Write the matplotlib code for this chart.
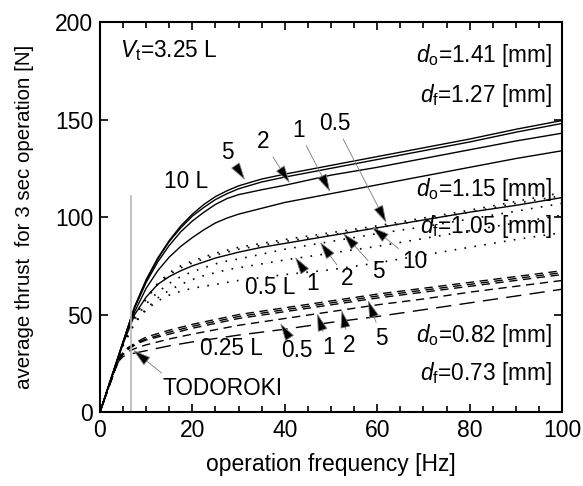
import matplotlib
matplotlib.use("Agg")
import matplotlib.pyplot as plt
from matplotlib.ticker import MultipleLocator

plt.rcParams['font.family'] = ['Liberation Sans', 'DejaVu Sans']
plt.rcParams['mathtext.fontset'] = 'custom'
plt.rcParams['mathtext.rm'] = 'Liberation Sans'
plt.rcParams['mathtext.it'] = 'Liberation Sans:italic'

# d_o = 1.41 mm (solid)
f_s = [0, 2.5, 5, 7.5, 10, 12.5, 15, 17.5, 20, 22.5, 25, 27.5, 30, 35, 40, 50, 60, 70, 80, 90, 100]
solid_10 = [0, 18, 36, 54, 68, 79, 88, 95.5, 101.5, 106.5, 110.5, 113.5, 116, 119.5, 122, 126.5, 131, 135.5, 140, 145, 149.5]
solid_5 = [0, 18, 36, 54, 67.5, 78.5, 87.5, 94.5, 100.5, 105, 109, 112, 114.5, 118, 120.5, 125, 129.5, 134, 138.5, 143.5, 148]
solid_2 = [0, 18, 36, 53.5, 66.5, 77, 85.5, 92.5, 98, 102.5, 106.5, 109.5, 111.5, 114, 116.3, 121.5, 125.5, 130, 134.5, 139, 143]
solid_1 = [0, 18, 35.5, 51.5, 63.5, 72.5, 79.5, 85, 89.5, 93.5, 97, 99.5, 101.5, 104.5, 107.5, 112, 116.5, 121, 125.5, 130, 134]
solid_05 = [0, 18, 35, 50, 59, 65.5, 69.5, 72.5, 75, 77, 79, 80.5, 82, 84.5, 86.5, 90.5, 94.5, 98.5, 102.5, 106, 110]

# d_o = 1.15 mm (dotted)
dot_10 = [0, 17.5, 35, 49, 58.5, 66, 71.5, 75, 77.5, 79.5, 81.5, 83, 84.5, 86.5, 88.5, 92, 95.5, 99.5, 103.5, 108, 112.5]
dot_5 = [0, 17.5, 35, 49, 58, 65.5, 70.5, 74, 76.5, 78.5, 80.5, 82, 83.5, 85.5, 87.5, 91, 94.5, 98.5, 102.5, 107, 111]
dot_2 = [0, 17.5, 34.5, 47.5, 55.5, 61.5, 66, 69.5, 72, 74, 76, 77.5, 78.5, 81, 83.5, 87.5, 91.5, 95, 99, 103, 107]
dot_1 = [0, 17.5, 34.5, 46, 53, 58.5, 62.5, 65.5, 68, 70, 71.5, 73, 74, 76, 78, 81.5, 85, 89, 93, 97, 101]
dot_05 = [0, 17.5, 34, 45.5, 52.5, 57, 60, 62, 63.5, 64.5, 65.5, 66.5, 67.5, 69, 70.5, 73, 76.5, 80.5, 84.5, 88.5, 92]

# d_o = 0.82 mm (dashed)
f_d = [0, 2, 4, 5, 6, 8, 10, 15, 20, 30, 40, 50, 60, 70, 80, 90, 100]
dash_5 = [0, 13.5, 27, 30.5, 33, 36, 38.5, 42, 45, 50, 53.5, 57, 60.5, 63.5, 66.5, 69.5, 72.5]
dash_2 = [0, 13.5, 27, 30.5, 32.5, 35.5, 37.5, 41, 44, 49, 52.5, 56, 59.5, 62.5, 65.5, 68.5, 71.5]
dash_1 = [0, 13.5, 27, 30, 32, 35, 37, 40, 43, 48, 51.5, 55, 58.5, 61.5, 64.5, 67.5, 70.5]
dash_05 = [0, 13.5, 26.5, 29.5, 31, 33, 34.5, 37.5, 40, 44.5, 48, 51.5, 55, 58, 61.5, 64.5, 67.5]
dash_025 = [0, 13.5, 26, 28.5, 29.5, 30.5, 31.5, 34, 36, 39.5, 42.5, 46, 49, 52.5, 56, 59.5, 63]

todoroki_f = 6.7
todoroki_top = 111

fig = plt.figure(figsize=(5.83, 4.86), dpi=100)
ax = fig.add_axes([0.1715, 0.152, 0.7925, 0.8027])

for y in [solid_10, solid_5, solid_2, solid_1, solid_05]:
    ax.plot(f_s, y, color='black', lw=1.0)
for y in [dot_10, dot_5, dot_2, dot_1, dot_05]:
    ax.plot(f_s, y, color='black', lw=1.2, linestyle=(0, (1, 5)))
for y in [dash_5, dash_2, dash_1, dash_05]:
    ax.plot(f_d, y, color='black', lw=1.0, linestyle=(0, (6, 4)))
ax.plot(f_d, dash_025, color='black', lw=1.0, linestyle=(0, (11, 6)))

ax.plot([todoroki_f, todoroki_f], [0, todoroki_top], color='#b8b8b8', lw=1.2)

ax.set_xlim(0, 100)
ax.set_ylim(0, 200)
ax.xaxis.set_major_locator(MultipleLocator(20))
ax.xaxis.set_minor_locator(MultipleLocator(5))
ax.yaxis.set_major_locator(MultipleLocator(50))
ax.tick_params(which='both', direction='in', top=True, right=True, labelsize=16.5, width=1.2)
ax.tick_params(which='major', length=6, pad=5)
ax.tick_params(which='minor', length=4)
for s in ax.spines.values():
    s.set_linewidth(1.5)

ax.set_xlabel('operation frequency [Hz]', fontsize=16.5, labelpad=8)
ax.set_ylabel('average thrust  for 3 sec operation [N]', fontsize=14.8, labelpad=15)

fs = 16.3
ax.text(4.3, 185.5, r'$V_{\rm t}$=3.25 L', fontsize=fs, va='center')
ax.text(97.8, 183, r'$d_{\rm o}$=1.41 [mm]', fontsize=fs, ha='right', va='center')
ax.text(97.8, 162.5, r'$d_{\rm f}$=1.27 [mm]', fontsize=fs, ha='right', va='center')
ax.text(97.8, 114, r'$d_{\rm o}$=1.15 [mm]', fontsize=fs, ha='right', va='center')
ax.text(97.8, 95, r'$d_{\rm f}$=1.05 [mm]', fontsize=fs, ha='right', va='center')
ax.text(97.8, 39.5, r'$d_{\rm o}$=0.82 [mm]', fontsize=fs, ha='right', va='center')
ax.text(97.8, 20, r'$d_{\rm f}$=0.73 [mm]', fontsize=fs, ha='right', va='center')

ax.text(18.6, 118, '10 L', fontsize=fs, ha='center', va='center')
ax.text(36.8, 64, '0.5 L', fontsize=fs, ha='center', va='center')
ax.text(28.4, 32.8, '0.25 L', fontsize=fs, ha='center', va='center')

arrow = dict(arrowstyle='-|>,head_length=0.7,head_width=0.2', fc='black', ec='#7a7a7a',
             lw=0.6, shrinkA=1, shrinkB=0)

labels = [
    ('5', 27.5, 133, 31.4, 119),
    ('2', 35.3, 138.5, 41.1, 117.4),
    ('1', 42.9, 144.6, 49.8, 113),
    ('0.5', 50.9, 148, 62, 97),
    ('1', 46.1, 66, 42.2, 79.6),
    ('2', 53.4, 68.7, 47.6, 87.3),
    ('5', 60.2, 72, 52.6, 91.8),
    ('10', 68.2, 77, 58.8, 95),
    ('0.5', 42.7, 31.8, 39, 45.6),
    ('1', 49.4, 33.3, 47, 50.6),
    ('2', 54, 34.4, 52.3, 52.3),
    ('5', 61, 38, 58, 57.4),
]
for txt, tx, ty, px, py in labels:
    ax.annotate(txt, xy=(px, py), xytext=(tx, ty), fontsize=fs, ha='center', va='center',
                arrowprops=arrow)

ax.annotate('TODOROKI', xy=(7.2, 31.8), xytext=(26.6, 12.3), fontsize=fs, ha='center',
            va='center', arrowprops=dict(arrow, relpos=(0.05, 0.9)))

fig.savefig('out.png', dpi=100)
